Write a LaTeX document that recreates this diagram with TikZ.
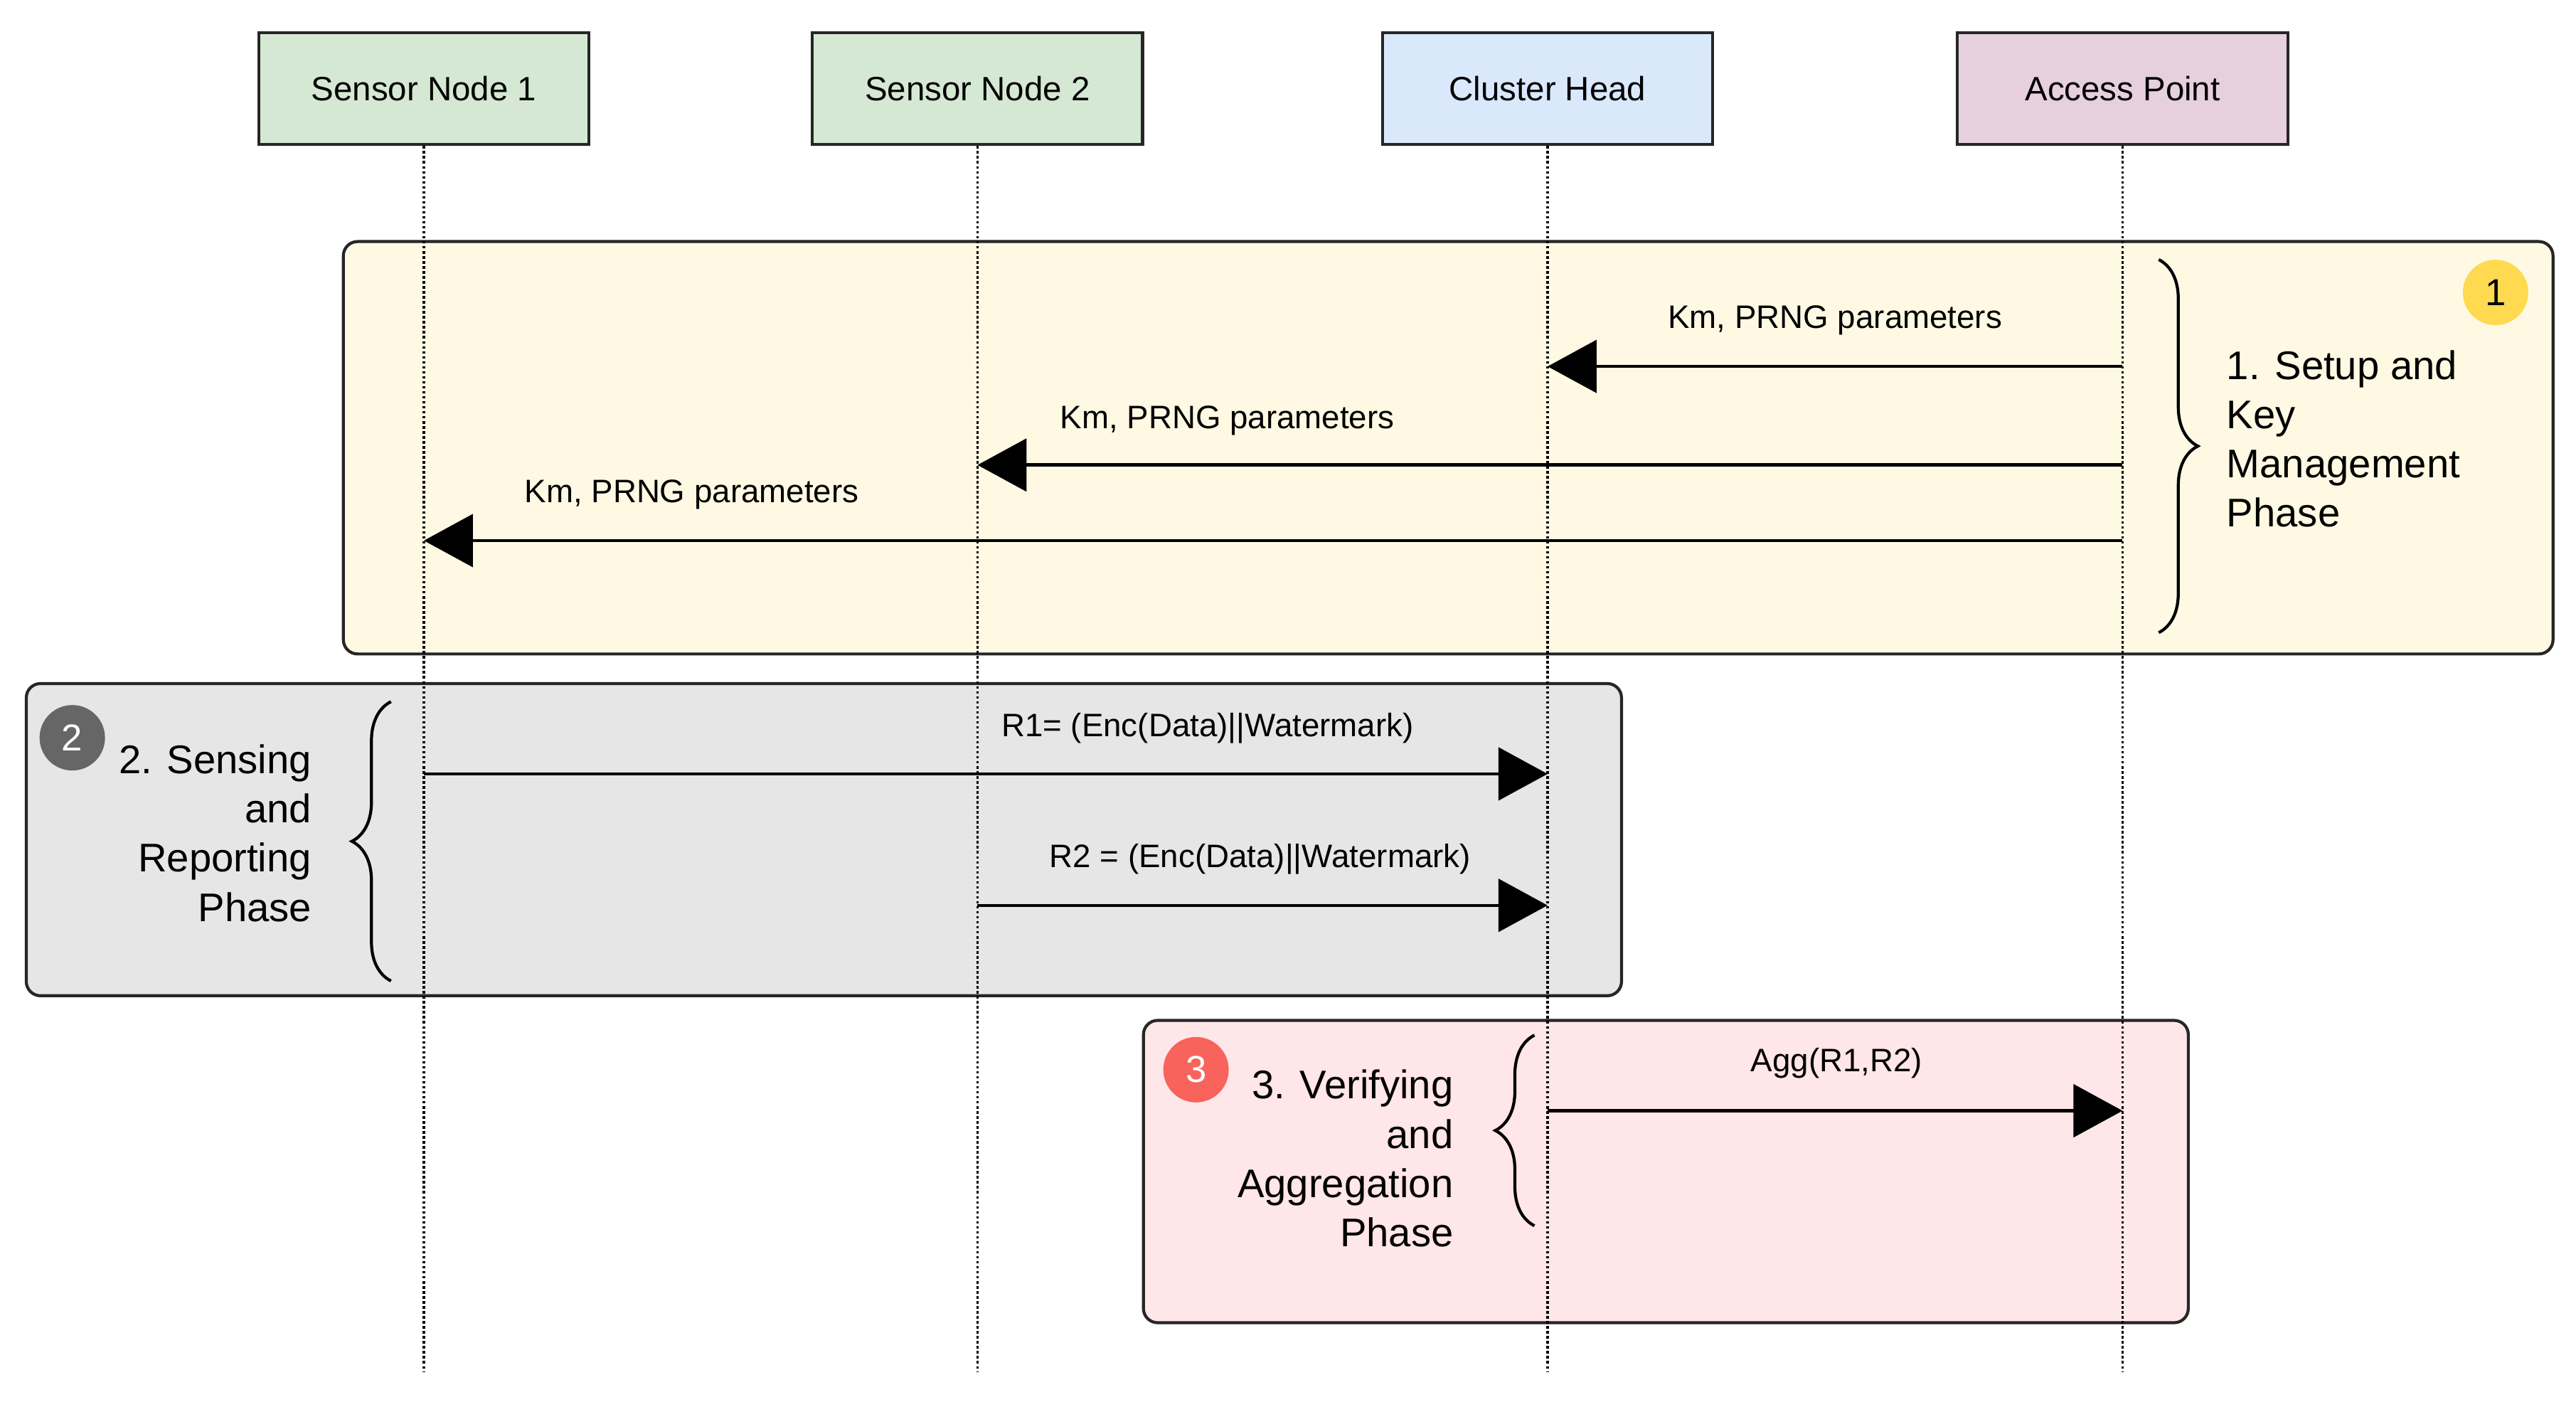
\documentclass[tikz,border=0pt]{standalone}
\usepackage{fontspec}
\setmainfont{Liberation Sans}
\usetikzlibrary{arrows.meta,decorations.pathreplacing}
\definecolor{sngreen}{HTML}{D5E8D4}
\definecolor{chblue}{HTML}{DAE8FC}
\definecolor{appink}{HTML}{E6D0DE}
\definecolor{phaseone}{HTML}{FFF9E3}
\definecolor{phasetwo}{HTML}{E6E6E6}
\definecolor{phasethree}{HTML}{FFE6E8}
\tikzset{
  header/.style={draw=black!85,line width=1.2pt,minimum width=201*0.231mm,minimum height=68*0.231mm,inner sep=0pt,font=\fontsize{13.5pt}{16pt}\selectfont},
  phase/.style={draw=black!85,line width=1.2pt,rounded corners=2mm},
  lifeline/.style={densely dotted,line width=1pt},
  msg/.style={line width=1.3pt,-{Triangle[length=6.9mm,width=7.4mm]}},
  msglabel/.style={font=\fontsize{13pt}{15pt}\selectfont},
  phaselabel/.style={font=\fontsize{16pt}{19.7pt}\selectfont},
  badge/.style={circle,minimum size=9.2mm,inner sep=0pt,font=\fontsize{15pt}{17pt}\selectfont},
  phasebrace/.style={decorate,decoration={brace,amplitude=5.5mm},line width=1.2pt}
}
\begin{document}
\begin{tikzpicture}[x=0.231mm,y=-0.231mm]
\useasboundingbox (0,0) rectangle (1568,856);

% phases
\filldraw [phase,fill=phaseone] (209,147) rectangle (1554,398);
\filldraw [phase,fill=phasetwo] (16,416) rectangle (987,606);
\filldraw [phase,fill=phasethree] (696,621) rectangle (1332,805);

% participants
\node [header,fill=sngreen] (sn1) at (258,54) {Sensor Node 1};
\node [header,fill=sngreen] (sn2) at (595,54) {Sensor Node 2};
\node [header,fill=chblue] (ch) at (942,54) {Cluster Head};
\node [header,fill=appink] (ap) at (1292,54) {Access Point};

\coordinate (sn1end) at (258,835);
\coordinate (sn2end) at (595,835);
\coordinate (chend) at (942,835);
\coordinate (apend) at (1292,835);
\draw [lifeline] (sn1) -- (sn1end);
\draw [lifeline] (sn2) -- (sn2end);
\draw [lifeline] (ch) -- (chend);
\draw [lifeline] (ap) -- (apend);

% 1. setup
\coordinate (ap1) at (1292,223); \coordinate (ch1) at (942,223);
\coordinate (ap2) at (1292,283); \coordinate (sn21) at (595,283);
\coordinate (ap3) at (1292,329); \coordinate (sn11) at (258,329);
\draw [msg] (ap1) -- (ch1);
\draw [msg] (ap2) -- (sn21);
\draw [msg] (ap3) -- (sn11);
\node [msglabel] (l1) at (1117,195) {Km, PRNG parameters};
\node [msglabel] (l2) at (747,256) {Km, PRNG parameters};
\node [msglabel] (l3) at (421,301) {Km, PRNG parameters};
\coordinate (b1top) at (1314,158); \coordinate (b1bot) at (1314,385);
\draw [phasebrace] (b1top) -- (b1bot);
\node [phaselabel,align=left,anchor=west] (p1) at (1350,267) {1. Setup and\\Key\\Management\\Phase};
\node [badge,fill={rgb,255:red,255;green,217;blue,80}] (n1) at (1519,178) {1};

% 2. sensing
\coordinate (sn12) at (258,471); \coordinate (ch2) at (942,471);
\coordinate (sn22) at (595,551); \coordinate (ch3) at (942,551);
\draw [msg] (sn12) -- (ch2);
\draw [msg] (sn22) -- (ch3);
\node [msglabel] (r1) at (735,443) {R1= (Enc(Data)||Watermark)};
\node [msglabel] (r2) at (767,523) {R2 = (Enc(Data)||Watermark)};
\coordinate (b2top) at (238,427); \coordinate (b2bot) at (238,597);
\draw [phasebrace] (b2bot) -- (b2top);
\node [phaselabel,align=right,anchor=east] (p2) at (195,507) {2. Sensing\\and\\Reporting\\Phase};
\node [badge,fill=black!60,text=white] (n2) at (44,449) {2};

% 3. verifying
\coordinate (ch4) at (942,676); \coordinate (ap4) at (1292,676);
\draw [msg] (ch4) -- (ap4);
\node [msglabel] (agg) at (1118,647) {Agg(R1,R2)};
\coordinate (b3top) at (934,630); \coordinate (b3bot) at (934,746);
\draw [phasebrace] (b3bot) -- (b3top);
\node [phaselabel,align=right,anchor=east] (p3) at (890,705) {3. Verifying\\and\\Aggregation\\Phase};
\node [badge,fill={rgb,255:red,248;green,100;blue,92},text=white] (n3) at (728,651) {3};
\end{tikzpicture}
\end{document}
